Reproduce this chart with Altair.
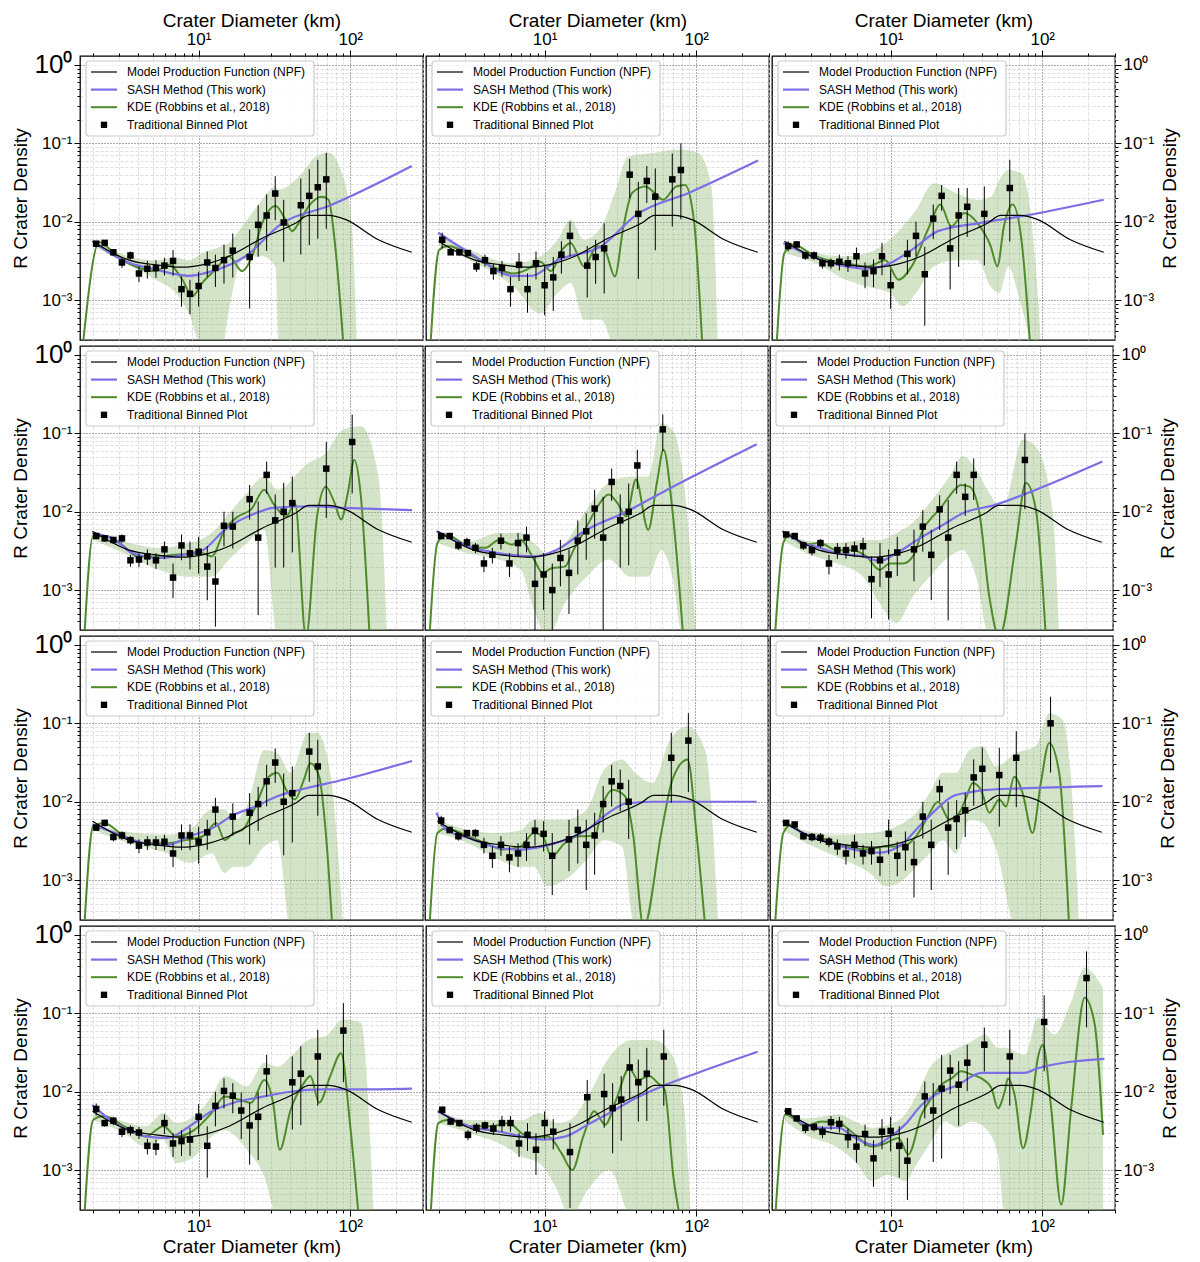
import altair as alt
import pandas as pd

# bin centres (km) shared by all binned plots
DBIN = [2.11, 2.40, 2.74, 3.12, 3.55, 4.04, 4.59, 5.23, 5.95, 6.78, 7.71, 8.77,
        10.0, 11.4, 12.9, 14.7, 16.8, 19.1, 21.7, 24.7, 28.1, 32.0, 36.4, 41.5,
        47.2, 53.7, 61.1, 69.5, 79.2, 90.1, 103, 117, 133, 151, 172, 196]

# model production function, same in every panel (log10 D, log10 R)
NPF_LOGD = [0.30, 0.541, 0.717, 0.893, 1.024, 1.2, 1.419, 1.638, 1.726, 1.857, 1.967, 2.186, 2.406]
NPF_LOGR = [-2.25, -2.49, -2.55, -2.58, -2.55, -2.44, -2.21, -2.02, -1.92, -1.92, -1.97, -2.23, -2.39]

# panels in reading order: row 0 col 0, row 0 col 1, ...
PT_K = [
    [0, 1, 2, 3, 4, 5, 6, 7, 8, 9, 10, 11, 12, 13, 14, 15, 16, 18, 19, 20, 21, 22, 24, 25, 26, 27],
    [0, 1, 2, 3, 4, 5, 6, 7, 8, 9, 10, 11, 12, 13, 14, 15, 17, 18, 19, 22, 23, 24, 25, 27, 28],
    [0, 1, 2, 3, 4, 5, 6, 7, 8, 9, 10, 11, 12, 14, 15, 16, 17, 18, 19, 20, 21, 23, 26],
    [0, 1, 2, 3, 4, 5, 6, 7, 8, 9, 10, 11, 12, 13, 14, 15, 16, 18, 19, 20, 21, 22, 23, 27, 30],
    [0, 1, 2, 3, 4, 5, 6, 7, 8, 9, 10, 11, 12, 13, 14, 15, 16, 17, 18, 19, 20, 21, 22, 23, 26],
    [0, 1, 2, 3, 4, 5, 6, 7, 8, 9, 10, 11, 12, 13, 15, 16, 17, 18, 19, 20, 21, 22, 28],
    [0, 1, 2, 3, 4, 5, 6, 7, 8, 9, 10, 11, 12, 13, 14, 16, 18, 19, 20, 21, 22, 23, 25, 26],
    [0, 1, 2, 3, 4, 5, 6, 7, 8, 9, 10, 11, 12, 13, 15, 16, 17, 18, 19, 20, 21, 22, 27, 29],
    [0, 1, 2, 3, 4, 5, 6, 7, 8, 9, 10, 11, 12, 13, 14, 15, 16, 17, 18, 19, 20, 21, 22, 23, 25, 27, 31],
    [0, 1, 2, 3, 4, 5, 6, 7, 8, 9, 10, 11, 12, 13, 14, 15, 16, 17, 18, 19, 20, 23, 24, 26, 29],
    [0, 1, 2, 3, 4, 5, 6, 7, 8, 9, 10, 11, 12, 13, 15, 17, 19, 20, 21, 22, 23, 24, 26],
    [0, 1, 2, 3, 4, 5, 6, 7, 8, 9, 10, 11, 12, 13, 14, 16, 17, 18, 19, 20, 21, 23, 26, 30, 35],
]
PT_LOGR = [
    [-2.28, -2.27, -2.39, -2.52, -2.43, -2.66, -2.60, -2.59, -2.56, -2.50, -2.86, -2.92, -2.82, -2.52, -2.59, -2.49, -2.37, -2.45, -2.04, -1.92, -1.64, -2.01, -1.79, -1.67, -1.56, -1.46],
    [-2.23, -2.39, -2.39, -2.40, -2.57, -2.49, -2.63, -2.59, -2.86, -2.55, -2.86, -2.53, -2.81, -2.71, -2.42, -2.18, -2.56, -2.45, -2.34, -1.40, -1.90, -1.48, -1.68, -1.46, -1.34],
    [-2.31, -2.29, -2.43, -2.43, -2.53, -2.53, -2.51, -2.53, -2.44, -2.66, -2.63, -2.44, -2.81, -2.41, -2.18, -2.67, -1.96, -1.67, -2.34, -1.92, -1.81, -1.90, -1.57],
    [-2.31, -2.34, -2.36, -2.34, -2.62, -2.61, -2.57, -2.62, -2.48, -2.84, -2.43, -2.53, -2.51, -2.70, -2.89, -2.18, -2.19, -1.84, -2.33, -1.53, -2.11, -2.0, -1.89, -1.45, -1.11],
    [-2.31, -2.31, -2.43, -2.39, -2.46, -2.66, -2.55, -2.37, -2.66, -2.40, -2.33, -2.92, -2.80, -3.0, -2.59, -2.78, -2.37, -2.25, -1.96, -2.33, -1.62, -2.11, -2.0, -1.41, -0.95],
    [-2.29, -2.31, -2.43, -2.49, -2.40, -2.66, -2.49, -2.49, -2.47, -2.44, -2.86, -2.62, -2.80, -2.52, -2.48, -2.19, -2.55, -1.97, -2.33, -1.53, -1.81, -1.53, -1.34],
    [-2.33, -2.27, -2.45, -2.43, -2.49, -2.56, -2.52, -2.52, -2.51, -2.66, -2.43, -2.43, -2.51, -2.39, -2.10, -2.19, -2.14, -2.03, -1.74, -1.50, -2.0, -1.89, -1.36, -1.55],
    [-2.24, -2.36, -2.44, -2.40, -2.40, -2.55, -2.69, -2.55, -2.71, -2.66, -2.55, -2.37, -2.41, -2.69, -2.48, -2.36, -2.55, -2.43, -2.03, -1.74, -1.80, -2.0, -1.44, -1.22],
    [-2.27, -2.29, -2.44, -2.45, -2.46, -2.51, -2.57, -2.66, -2.55, -2.66, -2.63, -2.74, -2.41, -2.69, -2.58, -2.77, -2.19, -2.55, -1.84, -2.33, -2.22, -2.11, -1.69, -1.58, -1.66, -1.44, -1.0],
    [-2.22, -2.40, -2.37, -2.51, -2.49, -2.52, -2.69, -2.70, -2.40, -2.66, -2.63, -2.61, -2.32, -2.69, -2.18, -1.99, -2.05, -2.24, -2.43, -2.32, -1.74, -1.88, -1.77, -1.55, -1.22],
    [-2.23, -2.38, -2.40, -2.55, -2.46, -2.43, -2.47, -2.40, -2.40, -2.66, -2.55, -2.74, -2.40, -2.51, -2.77, -2.07, -2.03, -2.21, -2.10, -1.69, -1.88, -1.77, -1.55],
    [-2.25, -2.34, -2.46, -2.45, -2.51, -2.39, -2.41, -2.58, -2.70, -2.54, -2.85, -2.51, -2.50, -2.69, -2.88, -2.06, -2.24, -1.96, -1.73, -1.91, -1.63, -1.40, -1.55, -1.11, -0.55],
]
# upper error bar length in decades
PT_UP = [
    [.03, .03, .04, .06, .05, .09, .1, .1, .1, .14, .16, .18, .18, .14, .17, .2, .22, .35, .25, .27, .22, .29, .34, .34, .35, .34],
    [.09, .03, .04, .04, .06, .07, .09, .09, .16, .15, .2, .15, .24, .26, .17, .18, .25, .22, .32, .2, .41, .19, .36, .33, .34],
    [.06, .04, .05, .05, .06, .06, .09, .09, .11, .14, .15, .17, .2, .18, .18, .35, .18, .14, .3, .35, .24, .35, .36],
    [.03, .04, .04, .05, .07, .08, .09, .09, .1, .18, .14, .15, .19, .26, .32, .18, .19, .18, .46, .17, .33, .37, .34, .34, .35],
    [.04, .03, .05, .06, .06, .09, .09, .09, .13, .13, .14, .35, .27, .34, .23, .3, .26, .23, .24, .52, .17, .33, .36, .2, .19],
    [.03, .03, .05, .06, .05, .11, .09, .09, .09, .11, .29, .22, .32, .2, .25, .21, .32, .18, .48, .17, .17, .21, .34],
    [.03, .04, .05, .05, .05, .08, .08, .08, .09, .13, .14, .14, .19, .16, .15, .17, .25, .22, .21, .18, .36, .34, .24, .34],
    [.06, .04, .05, .04, .05, .09, .12, .11, .14, .13, .15, .14, .16, .29, .25, .26, .32, .29, .23, .21, .21, .28, .32, .35],
    [.03, .03, .04, .05, .06, .06, .09, .11, .13, .11, .13, .15, .18, .18, .2, .27, .19, .32, .12, .33, .24, .22, .23, .27, .35, .34, .34],
    [.07, .04, .05, .06, .06, .07, .09, .09, .11, .13, .14, .15, .16, .25, .18, .16, .16, .23, .29, .31, .21, .33, .35, .34, .35],
    [.04, .04, .04, .06, .06, .05, .07, .09, .09, .13, .15, .21, .15, .16, .37, .22, .26, .32, .3, .25, .29, .33, .34],
    [.04, .03, .06, .05, .07, .08, .09, .11, .15, .12, .23, .16, .18, .25, .29, .19, .35, .43, .2, .3, .23, .22, .34, .34, .34],
]

SASH_LOGD = [
    [0.30, 0.498, 0.717, 0.936, 1.09, 1.309, 1.55, 1.857, 2.406],
    [0.298, 0.507, 0.796, 0.912, 1.086, 1.375, 1.607, 1.954, 2.408],
    [0.293, 0.502, 0.705, 0.849, 0.994, 1.139, 1.313, 1.574, 1.863, 2.405],
    [0.298, 0.449, 0.564, 0.738, 0.941, 1.028, 1.172, 1.375, 1.491, 1.723, 1.954, 2.408],
    [0.293, 0.502, 0.705, 0.936, 1.081, 1.284, 1.545, 1.776, 2.405],
    [0.301, 0.437, 0.546, 0.656, 0.831, 0.941, 1.051, 1.204, 1.357, 1.489, 1.708, 1.971, 2.41],
    [0.298, 0.449, 0.651, 0.796, 0.941, 1.086, 1.23, 1.375, 1.52, 1.665, 1.954, 2.408],
    [0.293, 0.357, 0.502, 0.705, 0.849, 0.994, 1.139, 1.284, 1.429, 1.545, 1.718, 2.008, 2.405],
    [0.301, 0.437, 0.656, 0.766, 0.941, 1.095, 1.204, 1.313, 1.423, 1.533, 1.643, 1.862, 2.41],
    [0.298, 0.449, 0.651, 0.796, 0.941, 1.086, 1.23, 1.433, 1.607, 1.81, 2.099, 2.408],
    [0.293, 0.502, 0.705, 0.849, 0.994, 1.139, 1.284, 1.429, 1.603, 1.776, 2.008, 2.405],
    [0.301, 0.437, 0.546, 0.656, 0.766, 0.897, 0.985, 1.095, 1.204, 1.313, 1.445, 1.599, 1.752, 1.884, 1.971, 2.41],
]
SASH_LOGR = [
    [-2.25, -2.49, -2.61, -2.69, -2.63, -2.44, -2.02, -1.80, -1.29],
    [-2.14, -2.40, -2.69, -2.69, -2.49, -2.31, -1.91, -1.63, -1.22],
    [-2.27, -2.46, -2.57, -2.60, -2.53, -2.36, -2.12, -2.02, -1.93, -1.72],
    [-2.27, -2.36, -2.53, -2.59, -2.53, -2.49, -2.23, -2.02, -1.95, -1.93, -1.95, -1.98],
    [-2.25, -2.44, -2.53, -2.57, -2.49, -2.23, -2.0, -1.76, -1.14],
    [-2.25, -2.40, -2.46, -2.53, -2.57, -2.63, -2.53, -2.34, -2.17, -2.02, -1.91, -1.72, -1.36],
    [-2.29, -2.40, -2.53, -2.55, -2.44, -2.34, -2.17, -2.06, -1.93, -1.85, -1.72, -1.48],
    [-2.14, -2.36, -2.46, -2.59, -2.61, -2.57, -2.49, -2.36, -2.14, -2.02, -2.0, -2.0, -2.0],
    [-2.25, -2.40, -2.55, -2.61, -2.65, -2.53, -2.31, -2.10, -1.93, -1.88, -1.85, -1.83, -1.80],
    [-2.17, -2.40, -2.57, -2.59, -2.44, -2.25, -2.14, -2.06, -2.0, -1.97, -1.97, -1.96],
    [-2.25, -2.44, -2.51, -2.57, -2.61, -2.57, -2.42, -2.27, -2.08, -1.93, -1.76, -1.49],
    [-2.23, -2.42, -2.46, -2.46, -2.59, -2.68, -2.59, -2.42, -2.17, -2.02, -1.91, -1.76, -1.76, -1.76, -1.70, -1.58],
]

KDE_LOGD = [
    [0.235, 0.344, 0.388, 0.498, 0.607, 0.717, 0.805, 0.893, 0.958, 1.024, 1.112, 1.2, 1.287, 1.353, 1.419, 1.507, 1.572, 1.616, 1.66, 1.726, 1.814, 1.857, 1.901, 1.956],
    [0.246, 0.304, 0.362, 0.507, 0.651, 0.796, 0.883, 0.970, 1.042, 1.115, 1.172, 1.26, 1.347, 1.405, 1.463, 1.52, 1.578, 1.665, 1.723, 1.781, 1.868, 1.926, 1.984, 2.041],
    [0.247, 0.299, 0.357, 0.502, 0.705, 0.849, 0.965, 1.052, 1.139, 1.255, 1.328, 1.40, 1.487, 1.574, 1.66, 1.704, 1.747, 1.805, 1.863, 1.921],
    [0.246, 0.304, 0.391, 0.507, 0.593, 0.709, 0.854, 1.028, 1.086, 1.172, 1.26, 1.347, 1.433, 1.491, 1.578, 1.636, 1.708, 1.781, 1.839, 1.897, 1.94, 1.984, 2.027, 2.07, 2.128],
    [0.247, 0.299, 0.357, 0.502, 0.618, 0.705, 0.792, 0.849, 0.936, 0.994, 1.052, 1.139, 1.197, 1.284, 1.357, 1.429, 1.487, 1.545, 1.609, 1.69, 1.747, 1.791, 1.849, 1.921],
    [0.25, 0.305, 0.349, 0.437, 0.546, 0.656, 0.766, 0.853, 0.941, 1.007, 1.095, 1.16, 1.226, 1.291, 1.336, 1.401, 1.478, 1.533, 1.599, 1.664, 1.730, 1.84, 1.905, 1.971, 2.037],
    [0.246, 0.304, 0.376, 0.507, 0.651, 0.796, 0.912, 1.028, 1.115, 1.172, 1.23, 1.289, 1.375, 1.463, 1.52, 1.578, 1.636, 1.694, 1.737, 1.795, 1.839, 1.882],
    [0.247, 0.299, 0.357, 0.502, 0.618, 0.734, 0.849, 0.936, 0.994, 1.052, 1.139, 1.226, 1.284, 1.342, 1.386, 1.458, 1.537, 1.589, 1.66, 1.776, 1.849, 1.95, 2.008, 2.066],
    [0.25, 0.305, 0.36, 0.437, 0.546, 0.656, 0.766, 0.875, 0.963, 1.051, 1.117, 1.182, 1.248, 1.325, 1.401, 1.467, 1.511, 1.555, 1.61, 1.664, 1.730, 1.774, 1.829, 1.884, 1.949, 2.004, 2.059, 2.125, 2.191],
    [0.246, 0.304, 0.376, 0.507, 0.651, 0.767, 0.854, 0.970, 1.086, 1.172, 1.26, 1.347, 1.433, 1.491, 1.535, 1.607, 1.694, 1.737, 1.795, 1.868, 1.94, 1.998, 2.056],
    [0.247, 0.299, 0.357, 0.502, 0.647, 0.763, 0.849, 0.936, 1.023, 1.11, 1.183, 1.255, 1.328, 1.40, 1.472, 1.559, 1.617, 1.69, 1.747, 1.791, 1.849, 1.892],
    [0.239, 0.305, 0.36, 0.437, 0.546, 0.656, 0.766, 0.875, 0.963, 1.051, 1.117, 1.204, 1.27, 1.336, 1.401, 1.467, 1.533, 1.599, 1.664, 1.708, 1.752, 1.774, 1.818, 1.873, 1.928, 1.971, 2.004, 2.059, 2.125, 2.191, 2.28, 2.346, 2.401],
]
KDE_LOGR = [
    [-3.6, -2.26, -2.31, -2.49, -2.59, -2.63, -2.55, -2.74, -2.95, -2.78, -2.61, -2.44, -2.63, -2.44, -2.02, -1.80, -1.97, -2.12, -2.02, -1.80, -1.68, -1.72, -2.31, -3.6],
    [-3.6, -2.36, -2.31, -2.42, -2.57, -2.66, -2.61, -2.51, -2.63, -2.36, -2.27, -2.57, -2.31, -2.40, -2.70, -2.06, -1.63, -1.55, -1.63, -1.72, -1.55, -1.53, -1.97, -3.6],
    [-3.6, -2.40, -2.29, -2.44, -2.53, -2.57, -2.49, -2.74, -2.57, -2.06, -1.78, -2.06, -1.89, -2.02, -2.31, -2.57, -2.06, -1.78, -2.23, -3.6],
    [-3.6, -2.31, -2.31, -2.44, -2.57, -2.57, -2.55, -2.53, -2.57, -2.23, -2.06, -1.97, -1.72, -1.89, -2.06, -1.89, -3.6, -2.06, -1.68, -1.89, -2.10, -1.76, -1.34, -1.80, -3.6],
    [-3.6, -2.40, -2.29, -2.44, -2.46, -2.36, -2.42, -2.36, -2.61, -2.78, -2.72, -2.70, -2.49, -2.19, -1.93, -1.78, -1.89, -2.06, -1.59, -2.23, -1.63, -1.21, -1.97, -3.6],
    [-3.6, -2.40, -2.29, -2.42, -2.40, -2.49, -2.49, -2.57, -2.74, -2.66, -2.66, -2.57, -2.23, -2.06, -1.97, -1.80, -1.66, -1.68, -2.02, -3.08, -3.6, -2.40, -1.63, -1.97, -3.6],
    [-3.6, -2.31, -2.27, -2.44, -2.53, -2.53, -2.49, -2.44, -2.27, -2.49, -2.40, -2.36, -2.06, -1.68, -1.63, -1.85, -1.97, -1.72, -1.51, -1.68, -2.40, -3.6],
    [-3.6, -2.40, -2.34, -2.44, -2.53, -2.61, -2.57, -2.40, -2.44, -2.70, -2.53, -2.44, -2.44, -2.42, -2.06, -1.85, -1.93, -2.40, -3.6, -2.40, -1.72, -1.46, -2.40, -3.6],
    [-3.6, -2.40, -2.29, -2.42, -2.46, -2.53, -2.59, -2.61, -2.57, -2.57, -2.55, -2.44, -2.23, -2.0, -2.23, -2.14, -1.95, -1.76, -1.85, -2.14, -1.97, -2.06, -1.68, -1.89, -2.40, -1.76, -1.25, -1.63, -3.6],
    [-3.6, -2.36, -2.31, -2.44, -2.57, -2.44, -2.57, -2.49, -2.27, -2.06, -2.10, -2.14, -1.85, -2.14, -2.74, -2.23, -1.89, -1.80, -2.14, -1.80, -1.51, -2.40, -3.6],
    [-3.6, -2.40, -2.36, -2.44, -2.44, -2.40, -2.53, -2.59, -2.57, -2.78, -3.0, -2.57, -2.25, -2.42, -2.10, -1.70, -1.85, -1.80, -1.89, -1.97, -3.08, -3.6],
    [-3.6, -2.29, -2.34, -2.44, -2.38, -2.40, -2.55, -2.70, -2.66, -2.59, -2.80, -2.29, -2.08, -1.91, -1.83, -1.74, -1.78, -1.83, -1.95, -2.21, -2.0, -1.83, -2.04, -2.72, -2.21, -1.57, -1.40, -2.21, -3.44, -2.21, -0.80, -1.14, -2.55],
]

BAND_LOGD = [
    [0.30, 0.541, 0.717, 0.849, 0.936, 1.024, 1.156, 1.2, 1.287, 1.419, 1.507, 1.528, 1.682, 1.77, 1.857, 1.945, 2.011, 2.044],
    [0.304, 0.507, 0.796, 0.970, 1.086, 1.172, 1.26, 1.375, 1.463, 1.55, 1.723, 1.897, 2.013, 2.1, 2.143],
    [0.299, 0.502, 0.705, 0.849, 0.994, 1.081, 1.168, 1.284, 1.429, 1.574, 1.66, 1.718, 1.776, 1.863, 1.95, 1.993],
    [0.304, 0.507, 0.738, 0.941, 1.086, 1.201, 1.318, 1.433, 1.52, 1.723, 1.839, 1.954, 2.07, 2.186, 2.244],
    [0.299, 0.502, 0.705, 0.849, 0.936, 1.023, 1.139, 1.284, 1.429, 1.574, 1.69, 1.776, 1.849, 1.921, 2.008],
    [0.305, 0.437, 0.656, 0.831, 0.941, 1.051, 1.16, 1.27, 1.401, 1.489, 1.577, 1.664, 1.752, 1.884, 1.971, 2.081, 2.125],
    [0.304, 0.507, 0.796, 0.941, 1.086, 1.172, 1.23, 1.318, 1.433, 1.52, 1.607, 1.723, 1.781, 1.868, 1.954],
    [0.299, 0.502, 0.705, 0.849, 0.936, 1.023, 1.139, 1.284, 1.40, 1.516, 1.603, 1.718, 1.834, 1.95, 2.066, 2.153],
    [0.305, 0.437, 0.656, 0.875, 0.985, 1.095, 1.182, 1.27, 1.357, 1.445, 1.533, 1.621, 1.708, 1.84, 1.971, 2.059, 2.147, 2.213, 2.257],
    [0.304, 0.507, 0.651, 0.767, 0.854, 0.970, 1.086, 1.172, 1.318, 1.433, 1.52, 1.607, 1.723, 1.839, 1.954, 2.07, 2.157],
    [0.299, 0.502, 0.705, 0.849, 0.965, 1.081, 1.168, 1.284, 1.429, 1.574, 1.718, 1.834, 1.921, 1.964],
    [0.305, 0.437, 0.656, 0.766, 0.875, 0.985, 1.095, 1.182, 1.27, 1.357, 1.445, 1.533, 1.621, 1.708, 1.752, 1.884, 1.971, 2.081, 2.191, 2.28, 2.401],
]
BAND_HI = [
    [-2.23, -2.44, -2.49, -2.46, -2.49, -2.40, -2.31, -2.27, -2.06, -1.72, -1.55, -1.59, -1.38, -1.17, -1.12, -1.38, -2.06, -3.6],
    [-2.17, -2.36, -2.53, -2.44, -2.23, -1.97, -2.23, -2.06, -1.63, -1.17, -1.12, -1.08, -1.12, -1.55, -3.6],
    [-2.25, -2.40, -2.44, -2.40, -2.23, -2.06, -1.85, -1.51, -1.63, -1.72, -1.68, -1.46, -1.34, -1.38, -2.40, -3.6],
    [-2.25, -2.38, -2.46, -2.40, -2.27, -2.02, -1.76, -1.55, -1.72, -1.38, -1.25, -0.95, -0.91, -1.55, -3.6],
    [-2.25, -2.38, -2.27, -2.27, -2.40, -2.53, -2.40, -1.97, -1.63, -1.55, -1.55, -0.87, -0.95, -1.55, -3.6],
    [-2.23, -2.36, -2.40, -2.36, -2.36, -2.27, -2.14, -1.89, -1.55, -1.29, -1.46, -1.76, -1.97, -1.08, -1.17, -1.97, -3.6],
    [-2.27, -2.38, -2.42, -2.36, -2.10, -2.10, -2.23, -2.06, -1.34, -1.38, -1.63, -1.12, -1.12, -1.63, -3.6],
    [-2.23, -2.36, -2.40, -2.36, -2.23, -2.23, -2.23, -2.10, -1.59, -1.46, -1.63, -1.76, -1.21, -1.04, -1.34, -3.6],
    [-2.23, -2.36, -2.42, -2.40, -2.36, -2.27, -2.14, -1.89, -1.63, -1.63, -1.34, -1.29, -1.55, -1.38, -1.29, -0.87, -0.95, -1.97, -3.6],
    [-2.23, -2.38, -2.44, -2.27, -2.40, -2.31, -2.06, -1.80, -1.93, -1.63, -1.68, -1.55, -1.34, -1.29, -1.08, -1.12, -3.6],
    [-2.23, -2.36, -2.36, -2.36, -2.27, -2.40, -2.36, -2.06, -1.55, -1.34, -1.34, -1.51, -2.23, -3.6],
    [-2.21, -2.34, -2.29, -2.38, -2.46, -2.42, -2.29, -2.0, -1.66, -1.53, -1.44, -1.36, -1.27, -1.44, -1.44, -1.53, -1.06, -1.27, -0.85, -0.42, -0.68],
]
BAND_LO = [
    [-2.31, -2.55, -2.74, -2.91, -3.17, -3.6, -3.6, -3.12, -2.49, -2.44, -2.57, -3.6, -3.6, -3.6, -3.6, -3.6, -3.6, -3.6],
    [-2.31, -2.49, -2.83, -3.17, -2.91, -2.78, -3.25, -3.25, -3.6, -3.6, -3.6, -3.6, -3.6, -3.6, -3.6],
    [-2.40, -2.53, -2.74, -2.83, -2.91, -3.08, -2.91, -2.57, -2.49, -2.49, -2.83, -2.91, -2.57, -3.08, -3.6, -3.6],
    [-2.36, -2.53, -2.74, -2.83, -2.83, -2.61, -2.40, -2.23, -3.6, -3.6, -3.6, -3.6, -3.6, -3.6, -3.6],
    [-2.40, -2.53, -2.61, -2.74, -3.25, -3.6, -3.17, -2.83, -2.61, -2.83, -2.83, -2.49, -2.83, -3.6, -3.6],
    [-2.36, -2.51, -2.66, -2.83, -3.17, -3.42, -3.08, -2.83, -2.57, -2.49, -2.83, -3.6, -3.6, -3.6, -3.6, -3.6, -3.6],
    [-2.36, -2.51, -2.66, -2.78, -2.66, -2.91, -2.83, -2.83, -2.57, -2.49, -3.6, -3.6, -3.6, -3.6, -3.6],
    [-2.40, -2.53, -2.74, -2.83, -2.83, -3.08, -3.0, -2.74, -2.49, -2.57, -3.6, -3.6, -3.6, -3.6, -3.6, -3.6],
    [-2.36, -2.51, -2.70, -2.91, -3.08, -3.0, -2.83, -2.66, -2.49, -2.66, -2.23, -2.27, -2.6, -3.6, -3.6, -3.6, -3.6, -3.6, -3.6],
    [-2.36, -2.53, -2.70, -2.61, -2.91, -2.83, -2.57, -2.49, -2.74, -3.08, -3.6, -3.6, -3.6, -3.6, -3.6, -3.6, -3.6],
    [-2.40, -2.53, -2.66, -2.83, -2.91, -3.25, -3.6, -3.25, -3.0, -3.6, -3.6, -3.6, -3.6, -3.6],
    [-2.38, -2.55, -2.72, -2.89, -3.14, -3.06, -3.14, -2.89, -2.63, -2.38, -2.46, -2.38, -2.46, -2.80, -3.6, -3.6, -3.6, -3.6, -3.6, -3.6, -3.6],
]

LEGEND = [
    ("Model Production Function (NPF)", "black", 1.2),
    ("SASH Method (This work)", "#7b6ee6", 2.2),
    ("KDE (Robbins et al., 2018)", "#4f8a2b", 2.0),
    ("Traditional Binned Plot", "black", 0),
]

X_TICKS = [2, 3, 4, 5, 6, 7, 8, 9, 10, 20, 30, 40, 50, 60, 70, 80, 90, 100, 200, 300]
Y_TICKS = [0.0004, 0.0005, 0.0006, 0.0007, 0.0008, 0.0009,
           0.001, 0.002, 0.003, 0.004, 0.005, 0.006, 0.007, 0.008, 0.009,
           0.01, 0.02, 0.03, 0.04, 0.05, 0.06, 0.07, 0.08, 0.09,
           0.1, 0.2, 0.3, 0.4, 0.5, 0.6, 0.7, 0.8, 0.9, 1]

W, H = 343, 284
XS = alt.Scale(type="log", domain=[1.65, 302], nice=False)
YS = alt.Scale(type="log", domain=[0.00031, 1.3], nice=False)
MAJ_X = "datum.value == 10 || datum.value == 100"
MAJ_Y = "datum.value == 1 || datum.value == 0.1 || datum.value == 0.01 || datum.value == 0.001"


def cond(test, a, b):
    return {"condition": {"test": test, "value": a}, "value": b}


def x_axis(row):
    common = dict(values=X_TICKS, grid=True,
                  gridColor=cond(MAJ_X, "#444444", "#d0d0d0"),
                  gridDash=cond(MAJ_X, [1, 2], [3, 2]),
                  gridWidth=cond(MAJ_X, 0.9, 0.7))
    if row in (0, 3):
        return alt.Axis(orient="top" if row == 0 else "bottom", title="Crater Diameter (km)",
                        labelExpr="datum.value == 10 ? '10¹' : datum.value == 100 ? '10²' : ''",
                        tickSize=cond(MAJ_X, 6, 3), tickColor="black", domain=False,
                        labelFontSize=17, titleFontSize=19,
                        titlePadding=0 if row == 0 else 3, labelPadding=2, **common)
    return alt.Axis(labels=False, ticks=False, domain=False, title=None, **common)


def y_axis(col):
    common = dict(values=Y_TICKS, grid=True,
                  gridColor=cond(MAJ_Y, "#444444", "#d0d0d0"),
                  gridDash=cond(MAJ_Y, [1, 2], [3, 2]),
                  gridWidth=cond(MAJ_Y, 0.9, 0.7))
    if col in (0, 2):
        big = 26 if col == 0 else 17
        extra = dict(titleAngle=270, titlePadding=26) if col == 2 else dict(titlePadding=4)
        return alt.Axis(orient="left" if col == 0 else "right", title="R Crater Density",
                        labelExpr="datum.value == 1 ? '10⁰' : datum.value == 0.1 ? '10⁻¹' : "
                                  "datum.value == 0.01 ? '10⁻²' : datum.value == 0.001 ? '10⁻³' : ''",
                        labelFontSize=cond("datum.value == 1", big, 17),
                        tickSize=cond(MAJ_Y, 6, 3), tickColor="black", domain=False,
                        titleFontSize=19, labelPadding=2, **extra, **common)
    return alt.Axis(labels=False, ticks=False, domain=False, title=None, **common)


def legend_layers():
    one = pd.DataFrame({"a": [0]})
    layers = [alt.Chart(one).mark_rect(fill="white", fillOpacity=0.85, stroke="#cccccc",
                                       cornerRadius=3, strokeWidth=1.2).encode(
        x=alt.value(6), x2=alt.value(234), y=alt.value(5), y2=alt.value(80))]
    for j, (label, color, width) in enumerate(LEGEND):
        yy = 16 + 17.6 * j
        if width:
            layers.append(alt.Chart(one).mark_rule(color=color, strokeWidth=width).encode(
                x=alt.value(11), x2=alt.value(37), y=alt.value(yy)))
        else:
            layers.append(alt.Chart(one).mark_square(color="black", size=40, opacity=1).encode(
                x=alt.value(24), y=alt.value(yy)))
        layers.append(alt.Chart(one).mark_text(align="left", baseline="middle", fontSize=12).encode(
            x=alt.value(47), y=alt.value(yy), text=alt.value(label)))
    return layers


def panel(i):
    row, col = divmod(i, 3)
    xa, ya = x_axis(row), y_axis(col)
    band = pd.DataFrame({"d": [10 ** v for v in BAND_LOGD[i]],
                         "hi": [10 ** v for v in BAND_HI[i]],
                         "lo": [10 ** v for v in BAND_LO[i]]})
    kde = pd.DataFrame({"d": [10 ** v for v in KDE_LOGD[i]], "r": [10 ** v for v in KDE_LOGR[i]]})
    sash = pd.DataFrame({"d": [10 ** v for v in SASH_LOGD[i]], "r": [10 ** v for v in SASH_LOGR[i]]})
    npf = pd.DataFrame({"d": [10 ** v for v in NPF_LOGD], "r": [10 ** v for v in NPF_LOGR]})
    r = [10 ** v for v in PT_LOGR[i]]
    pts = pd.DataFrame({
        "d": [DBIN[k] for k in PT_K[i]],
        "r": r,
        "hi": [rv * 10 ** u for rv, u in zip(r, PT_UP[i])],
        "lo": [rv * 10 ** -(u + 2.5 * u * u) for rv, u in zip(r, PT_UP[i])],
    })

    def xy(ycol):
        return dict(x=alt.X("d:Q", scale=XS, axis=xa), y=alt.Y(ycol, scale=YS, axis=ya))

    base_band = alt.Chart(band).mark_area(interpolate="monotone", color="#8db870",
                                          opacity=0.38, clip=True).encode(**xy("hi:Q"), y2="lo:Q")
    kde_l = alt.Chart(kde).mark_line(interpolate="monotone", color="#4f8a2b",
                                     strokeWidth=2, clip=True).encode(**xy("r:Q"))
    sash_l = alt.Chart(sash).mark_line(interpolate="monotone", color="#7b6ee6",
                                       strokeWidth=2.2, clip=True).encode(**xy("r:Q"))
    npf_l = alt.Chart(npf).mark_line(interpolate="monotone", color="black",
                                     strokeWidth=1.2, clip=True).encode(**xy("r:Q"))
    err = alt.Chart(pts).mark_rule(color="black", strokeWidth=1, clip=True).encode(
        **xy("lo:Q"), y2="hi:Q")
    sq = alt.Chart(pts).mark_square(color="black", size=42, opacity=1, clip=True).encode(**xy("r:Q"))

    return alt.layer(base_band, kde_l, sash_l, npf_l, err, sq, *legend_layers()).properties(
        width=W, height=H)


rows = [alt.hconcat(*[panel(3 * r + c) for c in range(3)], spacing=0) for r in range(4)]
chart = (
    alt.vconcat(*rows, spacing=0)
    .configure_view(stroke="black", strokeWidth=1.3)
    .configure_axis(labelFont="Liberation Sans", titleFont="Liberation Sans",
                    titleFontWeight="normal", labelColor="black", titleColor="black")
    .configure_text(font="Liberation Sans")
    .properties(padding={"left": 2, "top": 2, "right": 2, "bottom": 2})
)

chart.save("out.html", embed_options={"renderer": "svg", "actions": False})
